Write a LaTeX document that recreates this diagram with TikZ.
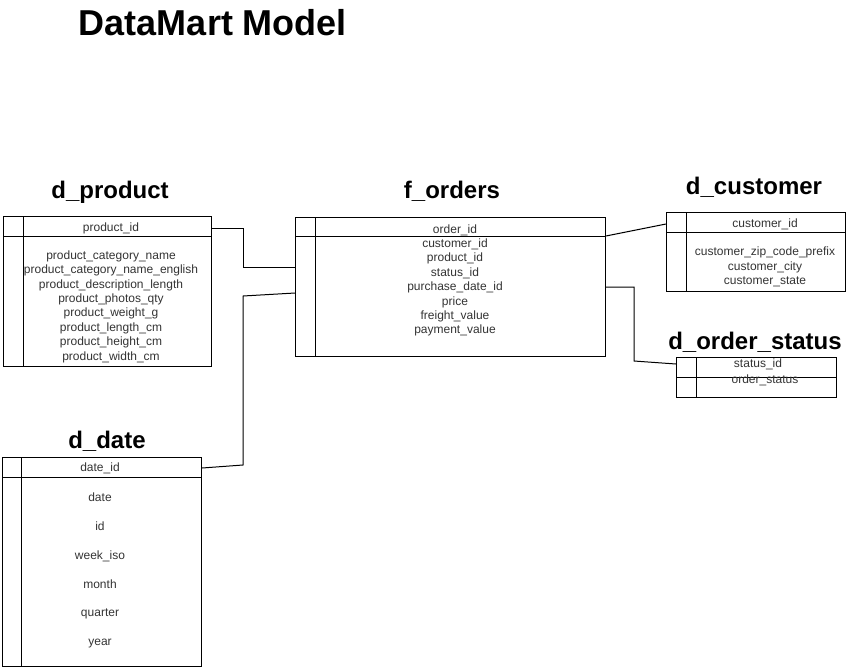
\documentclass[tikz,border=0pt]{standalone}
\usepackage{fontspec}
\setmainfont{Liberation Sans}
\definecolor{textgray}{HTML}{333333}
\begin{document}
\begin{tikzpicture}[x=1pt, y=-1pt,
    tablebox/.style={draw, line width=1pt, inner sep=0pt, anchor=north west},
    field/.style={font=\fontsize{12}{14.4}\selectfont, text=textgray, align=center, inner sep=0pt},
    tabletitle/.style={font=\bfseries\fontsize{24}{28}\selectfont, anchor=base, inner sep=0pt},
    link/.style={draw, line width=1pt}]
    \useasboundingbox (0,0) rectangle (846,667);
    % Title
    \node[font=\bfseries\fontsize{36}{42}\selectfont, anchor=base, inner sep=0pt] (title) at (213,35) {DataMart Model};

    % d_product table
    \node[tabletitle] (product-title) at (110,198) {d\_product};
    \node[tablebox, minimum width=208pt, minimum height=150pt] (product) at (3,216) {};
    \draw[line width=1pt] ([yshift=-20pt]product.north west) -- ([yshift=-20pt]product.north east);
    \draw[line width=1pt] ([xshift=20pt]product.north west) -- ([xshift=20pt]product.south west);
    \node[field] (product-id) at (111,228) {product\_id};
    \node[field] (product-fields) at (111,306.5) {product\_category\_name\\product\_category\_name\_english\\product\_description\_length\\product\_photos\_qty\\product\_weight\_g\\product\_length\_cm\\product\_height\_cm\\product\_width\_cm};

    % f_orders table
    \node[tabletitle] (orders-title) at (452,198) {f\_orders};
    \node[tablebox, minimum width=310pt, minimum height=139pt] (orders) at (295,217) {};
    \draw[line width=1pt] ([yshift=-19pt]orders.north west) -- ([yshift=-19pt]orders.north east);
    \draw[line width=1pt] ([xshift=20pt]orders.north west) -- ([xshift=20pt]orders.south west);
    \node[field] (order-id) at (455,230) {order\_id};
    \node[field] (orders-fields) at (455,287.5) {customer\_id\\product\_id\\status\_id\\purchase\_date\_id\\price\\freight\_value\\payment\_value};

    % d_customer table
    \node[tabletitle] (customer-title) at (754,194) {d\_customer};
    \node[tablebox, minimum width=179pt, minimum height=79pt] (customer) at (666,212) {};
    \draw[line width=1pt] ([yshift=-20pt]customer.north west) -- ([yshift=-20pt]customer.north east);
    \draw[line width=1pt] ([xshift=20pt]customer.north west) -- ([xshift=20pt]customer.south west);
    \node[field] (customer-id) at (765,224) {customer\_id};
    \node[field] (customer-fields) at (765,267) {customer\_zip\_code\_prefix\\customer\_city\\customer\_state};

    % d_order_status table
    \node[tabletitle] (status-title) at (755,349) {d\_order\_status};
    \node[tablebox, minimum width=160pt, minimum height=40pt] (status) at (676,357) {};
    \draw[line width=1pt] ([yshift=-20pt]status.north west) -- ([yshift=-20pt]status.north east);
    \draw[line width=1pt] ([xshift=20pt]status.north west) -- ([xshift=20pt]status.south west);
    \node[field] (status-id) at (758,364) {status\_id};
    \node[field] (order-status) at (765,380) {order\_status};

    % d_date table
    \node[tabletitle] (date-title) at (107,448) {d\_date};
    \node[tablebox, minimum width=199pt, minimum height=209pt] (date) at (2,457) {};
    \draw[line width=1pt] ([yshift=-20pt]date.north west) -- ([yshift=-20pt]date.north east);
    \draw[line width=1pt] ([xshift=19pt]date.north west) -- ([xshift=19pt]date.south west);
    \node[field] (date-id) at (100,468) {date\_id};
    \node[field, font=\fontsize{12}{28.8}\selectfont] (date-fields) at (100,570.5) {date\\id\\week\_iso\\month\\quarter\\year};

    % Links
    \coordinate (product-elbow) at (243,267);
    \draw[link] (product-id -| product.east) -| (product-elbow) -- (product-elbow -| orders.west);
    \coordinate (date-join) at (295,293);
    \coordinate (date-upper) at (243,296);
    \coordinate (date-lower) at (243,465);
    \draw[link] (date-join) -- (date-upper) -- (date-lower) -- (date-id -| date.east);
    \draw[link] ([yshift=-19pt]orders.north east) -- (customer-id -| customer.west);
    \coordinate (status-elbow) at (634,361);
    \draw[link] (orders.east) -| (status-elbow) -- (status-id -| status.west);
\end{tikzpicture}
\end{document}
